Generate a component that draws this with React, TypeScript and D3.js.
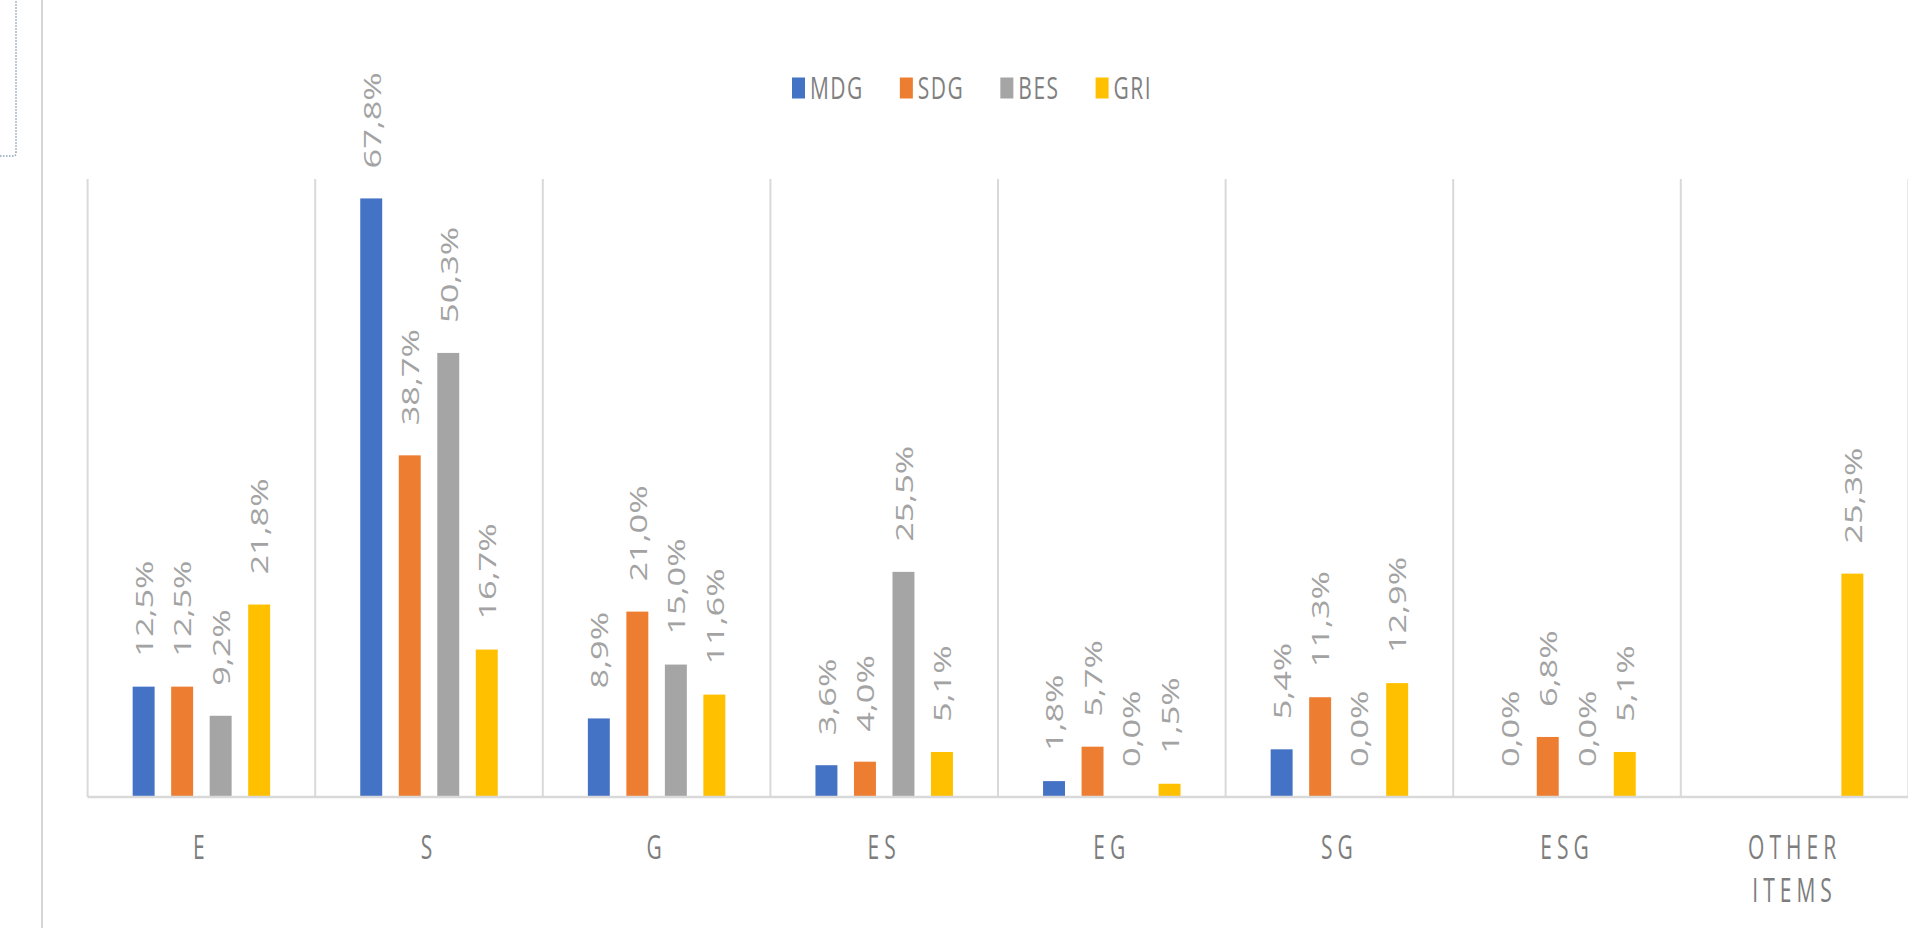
import React, { useRef, useEffect } from 'react';
import * as d3 from 'd3';

const categories = ['E', 'S', 'G', 'ES', 'EG', 'SG', 'ESG', 'OTHER ITEMS'];
const seriesNames = ['MDG', 'SDG', 'BES', 'GRI'];
const seriesColors = ['#4472C4', '#ED7D31', '#A5A5A5', '#FFC000'];

// percent values per series, one per category (null = no bar, no label)
const mdgValues = [12.5, 67.8, 8.9, 3.6, 1.8, 5.4, 0.0, null];
const sdgValues = [12.5, 38.7, 21.0, 4.0, 5.7, 11.3, 6.8, null];
const besValues = [9.2, 50.3, 15.0, 25.5, 0.0, 0.0, 0.0, null];
const griValues = [21.8, 16.7, 11.6, 5.1, 1.5, 12.9, 5.1, 25.3];

const W = 1908;
const H = 928;
const plotLeft = 87.6;
const bandWidth = 227.6;
const plotTop = 179;
const baseline = 797;
const yMax = 70;
const font = '"Open Sans", "DejaVu Sans", sans-serif';

const fmt = (v: number) => v.toFixed(1).replace('.', ',') + '%';

const drawChart = (el: SVGGElement) => {
    const root = d3.select(el);
    root.selectAll('*').remove();

    const allValues = [mdgValues, sdgValues, besValues, griValues];

    const x0 = d3.scaleBand<string>()
        .domain(categories)
        .range([plotLeft, plotLeft + bandWidth * categories.length])
        .paddingInner(0)
        .paddingOuter(0);

    const x1 = d3.scaleBand<string>()
        .domain(seriesNames)
        .range([0, x0.bandwidth()])
        .paddingInner(0.43)
        .paddingOuter(1.17);

    const y = d3.scaleLinear().domain([0, yMax]).range([baseline, plotTop]);

    // vertical separators between categories
    const seps = d3.range(categories.length + 1).map(i => plotLeft + i * x0.step());
    root.append('g').selectAll('line').data(seps).join('line')
        .attr('x1', d => d).attr('x2', d => d)
        .attr('y1', plotTop).attr('y2', baseline)
        .attr('stroke', '#d9d9d9').attr('stroke-width', 2);

    // bars + labels
    const groups = root.append('g').selectAll('g').data(categories).join('g')
        .attr('transform', d => `translate(${x0(d)},0)`);

    seriesNames.forEach((s, si) => {
        const vals = allValues[si];
        groups.each(function (cat, ci) {
            const v = vals[ci];
            if (v === null) return;
            const g = d3.select(this);
            const bx = x1(s)!;
            if (v > 0) {
                g.append('rect')
                    .attr('x', bx)
                    .attr('y', y(v))
                    .attr('width', x1.bandwidth())
                    .attr('height', baseline - y(v))
                    .attr('fill', seriesColors[si]);
            }
            g.append('text')
                .attr('transform', `translate(${bx + x1.bandwidth() / 2},${y(v) - 30}) rotate(-90) scale(1.43,1)`)
                .attr('text-anchor', 'start')
                .attr('dominant-baseline', 'central')
                .attr('font-family', font)
                .attr('font-size', 24)
                .attr('fill', '#a3a3a3')
                .text(fmt(v));
        });
    });

    // baseline
    root.append('line')
        .attr('x1', plotLeft).attr('x2', W)
        .attr('y1', baseline).attr('y2', baseline)
        .attr('stroke', '#d9d9d9').attr('stroke-width', 2.5);

    // category labels
    const catG = root.append('g').selectAll('g').data(categories).join('g')
        .attr('transform', d => `translate(${x0(d)! + x0.bandwidth() / 2},0)`);
    catG.each(function (cat) {
        const words = cat.split(' ');
        words.forEach((w, i) => {
            d3.select(this).append('text')
                .attr('transform', `translate(0,${859 + i * 43}) scale(1,1.6)`)
                .attr('text-anchor', 'middle')
                .attr('font-family', font)
                .attr('font-size', 21)
                .attr('letter-spacing', 5)
                .attr('fill', '#7d7d7d')
                .text(w);
        });
    });

    // legend
    const legend = root.append('g');
    let lx = 792;
    const ly = 88;
    seriesNames.forEach((s, si) => {
        legend.append('rect')
            .attr('x', lx).attr('y', ly - 10.5)
            .attr('width', 13).attr('height', 21)
            .attr('fill', seriesColors[si]);
        const t = legend.append('text')
            .attr('transform', `translate(${lx + 18},${ly + 11}) scale(1,1.5)`)
            .attr('font-family', font)
            .attr('font-size', 21)
            .attr('letter-spacing', 1.5)
            .attr('fill', '#808080')
            .text(s);
        const tw = (t.node() as SVGTextElement).getComputedTextLength();
        lx += 18 + tw + 36;
    });
};

const App = () => {
    const ref = useRef<SVGGElement>(null);

    useEffect(() => {
        if (ref.current) drawChart(ref.current);
    }, []);

    return (
        <svg width={W} height={H} style={{ position: 'absolute', left: 0, top: 0, background: '#fff' }}>
            {/* window chrome on the left edge */}
            <path d="M0,156 H14 Q16,156 16,152 V0" fill="none" stroke="#8ea2b8" strokeWidth={1.5} strokeDasharray="1.5,1.5" />
            <line x1={42} x2={42} y1={0} y2={H} stroke="#d6d6d6" strokeWidth={2} />
            <g ref={ref} />
        </svg>
    );
};

export default App;
